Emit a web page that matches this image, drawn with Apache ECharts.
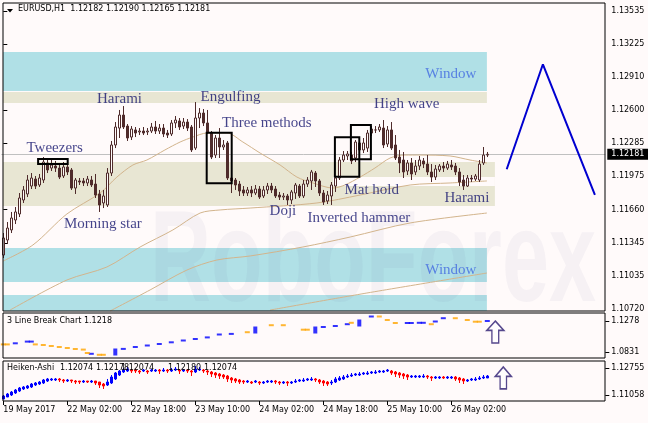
<!DOCTYPE html>
<html><head><meta charset="utf-8">
<script src="https://cdn.jsdelivr.net/npm/echarts@6/dist/echarts.min.js"></script>
<style>html,body{margin:0;padding:0;background:#fffafa;}#c{width:648px;height:423px;}</style>
</head><body><div id="c"></div>
<script>
// ---------- DATA ----------
const headerText = 'EURUSD,H1  1.12182 1.12190 1.12165 1.12181';
const lastPrice = 1.12181;
const priceTicks = [1.10720,1.11035,1.11345,1.11660,1.11975,1.12285,1.12600,1.12910,1.13225,1.13535];
const lbTicks = [1.0831, 1.1278];
const haTicks = [1.11058, 1.12755];
const timeTickIdx = [0,16,32,48,64,80,96,112];
const timeTickLabels = ['19 May 2017','22 May 02:00','22 May 18:00','23 May 10:00','24 May 02:00','24 May 18:00','25 May 10:00','26 May 02:00'];

// EURUSD H1 candles [open, close, low, high]
const candles = [
[1.11229,1.11390,1.11201,1.11437],[1.11371,1.11484,1.11333,1.11541],[1.11466,1.11579,1.11437,1.11636],[1.11560,1.11636,1.11522,1.11683],
[1.11617,1.11768,1.11588,1.11815],[1.11749,1.11844,1.11721,1.11881],[1.11806,1.11938,1.11777,1.11985],[1.11881,1.11957,1.11853,1.12004],
[1.11947,1.11881,1.11853,1.11976],[1.11891,1.11957,1.11872,1.11995],[1.11938,1.12108,1.11910,1.12155],[1.12099,1.12033,1.12004,1.12136],
[1.12051,1.12080,1.12023,1.12127],[1.12070,1.12051,1.12014,1.12118],[1.12051,1.11966,1.11947,1.12099],[1.11976,1.12061,1.11957,1.12108],
[1.12061,1.12014,1.11985,1.12118],[1.12033,1.11862,1.11844,1.12051],[1.11862,1.11938,1.11806,1.11957],[1.11929,1.11919,1.11891,1.11957],
[1.11929,1.11910,1.11881,1.11957],[1.11910,1.11947,1.11881,1.11976],[1.11938,1.11891,1.11872,1.11976],[1.11900,1.11796,1.11768,1.11995],
[1.11806,1.11702,1.11636,1.11844],[1.11721,1.11787,1.11673,1.11844],[1.11702,1.12004,1.11683,1.12051],[1.12004,1.12269,1.11976,1.12307],
[1.12269,1.12439,1.12240,1.12486],[1.12429,1.12552,1.12335,1.12600],[1.12552,1.12439,1.12420,1.12637],[1.12448,1.12335,1.12307,1.12467],
[1.12344,1.12420,1.12316,1.12448],[1.12411,1.12382,1.12344,1.12439],[1.12392,1.12401,1.12363,1.12429],[1.12401,1.12382,1.12363,1.12439],
[1.12392,1.12401,1.12363,1.12429],[1.12401,1.12439,1.12382,1.12477],[1.12439,1.12401,1.12373,1.12496],[1.12401,1.12429,1.12373,1.12467],
[1.12429,1.12373,1.12344,1.12467],[1.12382,1.12363,1.12335,1.12411],[1.12373,1.12477,1.12354,1.12505],[1.12477,1.12505,1.12429,1.12543],
[1.12496,1.12439,1.12411,1.12524],[1.12448,1.12486,1.12420,1.12524],[1.12486,1.12429,1.12401,1.12514],[1.12439,1.12222,1.12203,1.12458],
[1.12240,1.12524,1.12222,1.12675],[1.12524,1.12571,1.12429,1.12618],[1.12571,1.12477,1.12448,1.12609],[1.12477,1.12392,1.12373,1.12600],
[1.12382,1.12155,1.12136,1.12401],[1.12174,1.12335,1.12146,1.12363],[1.12335,1.12250,1.12146,1.12429],[1.12250,1.12269,1.12222,1.12316],
[1.12288,1.11957,1.11938,1.12307],[1.11957,1.11929,1.11815,1.12080],[1.11938,1.11891,1.11844,1.11957],[1.11900,1.11834,1.11787,1.11929],
[1.11844,1.11815,1.11787,1.11881],[1.11815,1.11844,1.11787,1.11872],[1.11844,1.11815,1.11777,1.11881],[1.11815,1.11853,1.11796,1.11891],
[1.11853,1.11777,1.11759,1.11881],[1.11787,1.11844,1.11768,1.11881],[1.11844,1.11881,1.11806,1.11910],[1.11881,1.11844,1.11815,1.11910],
[1.11853,1.11787,1.11768,1.11881],[1.11796,1.11777,1.11749,1.11825],[1.11777,1.11787,1.11749,1.11815],[1.11787,1.11749,1.11702,1.11806],
[1.11749,1.11825,1.11711,1.11844],[1.11815,1.11891,1.11759,1.11910],[1.11881,1.11787,1.11768,1.11900],[1.11787,1.11900,1.11768,1.11938],
[1.11900,1.11938,1.11872,1.11966],[1.11929,1.12014,1.11844,1.12033],[1.12004,1.11929,1.11872,1.12023],[1.11929,1.11815,1.11787,1.11947],
[1.11815,1.11730,1.11702,1.11844],[1.11740,1.11796,1.11711,1.11834],[1.11787,1.11891,1.11702,1.11919],[1.11881,1.11957,1.11825,1.11976],
[1.11957,1.12127,1.11938,1.12155],[1.12127,1.12174,1.12108,1.12212],[1.12165,1.12184,1.12127,1.12212],[1.12174,1.12118,1.12089,1.12203],
[1.12146,1.12297,1.12108,1.12316],[1.12288,1.12222,1.12155,1.12307],[1.12222,1.12288,1.12193,1.12335],[1.12240,1.12382,1.12203,1.12411],
[1.12382,1.12420,1.12354,1.12448],[1.12411,1.12411,1.12382,1.12448],[1.12411,1.12439,1.12392,1.12467],[1.12429,1.12269,1.12240,1.12505],
[1.12278,1.12411,1.12250,1.12448],[1.12411,1.12240,1.12222,1.12486],[1.12269,1.12146,1.12127,1.12363],[1.12155,1.12099,1.12004,1.12222],
[1.12127,1.12014,1.11957,1.12203],[1.12023,1.12099,1.11985,1.12127],[1.12099,1.11995,1.11938,1.12146],[1.12014,1.12070,1.11985,1.12127],
[1.12070,1.12127,1.12033,1.12165],[1.12118,1.12089,1.12051,1.12146],[1.12089,1.12014,1.11985,1.12174],[1.12014,1.11966,1.11919,1.12089],
[1.11966,1.12042,1.11938,1.12080],[1.12033,1.12070,1.12014,1.12089],[1.12070,1.12051,1.12014,1.12108],[1.12051,1.12089,1.12033,1.12118],
[1.12080,1.12061,1.12033,1.12127],[1.12070,1.12014,1.11985,1.12099],[1.12014,1.11919,1.11881,1.12051],[1.11938,1.11881,1.11844,1.11985],
[1.11881,1.11957,1.11872,1.11985],[1.11957,1.11947,1.11919,1.11985],[1.11947,1.11976,1.11929,1.11995],[1.11938,1.12089,1.11919,1.12127],
[1.12099,1.12174,1.12080,1.12250],[1.12174,1.12181,1.12155,1.12203]
];

// moving averages: [bar index, price]
const maFast = [[0,1.11173],[7.4,1.11324],[15.9,1.11617],[24.2,1.11815],[28.4,1.11966],[32.4,1.12080],[35.9,1.12127],[40.4,1.12222],[44.2,1.12297],[47.4,1.12344],[50.9,1.12382],[55.9,1.12382],[59.9,1.12297],[64.2,1.12193],[69.2,1.12080],[73.4,1.11966],[77.4,1.11910],[82.4,1.11862],[85.4,1.11891],[89.2,1.11966],[92.9,1.12051],[96.7,1.12146],[100.4,1.12174],[104.2,1.12174],[111.7,1.12165],[116.7,1.12127],[120.9,1.12099]];
const maMid = [[1.7,1.10709],[15.9,1.10993],[25.9,1.11116],[34.2,1.11305],[42.4,1.11466],[49.2,1.11626],[54.2,1.11655],[61.7,1.11673],[78.4,1.11721],[89.2,1.11796],[101.7,1.11891],[111.7,1.11910],[120.9,1.11929]];
const maSlow = [[26.7,1.10700],[36.7,1.10899],[45.9,1.11087],[53.4,1.11182],[61.7,1.11220],[74.9,1.11305],[86.7,1.11399],[101.7,1.11532],[120.9,1.11626]];
const maSlowest = [[66.7,1.10709],[90.9,1.10870],[120.9,1.11059]];

// forecast zigzag [bar index, price]
const forecast = [[125.85,1.12040],[134.9,1.13032],[147.9,1.11797]];

// zones: [kind, startIdx, endIdx, low, high]
const zones = [
 ['window',-0.075,120.9,1.12779,1.13148],
 ['zone',-0.075,120.9,1.12666,1.12770],
 ['zone',-0.075,122.9,1.11693,1.12109],
 ['gap',82.4,122.9,1.11882,1.11967],
 ['window',-0.075,120.9,1.10975,1.11296],
 ['window',-0.075,120.9,1.10700,1.10852]
];
// pattern boxes: [startIdx, endIdx, low, high]
const boxes = [[8.7,16.1,1.12090,1.12137],[50.85,57.1,1.11907,1.12385],[82.9,89.0,1.11970,1.12342],[86.9,91.9,1.12134,1.12458]];
// pattern names: [text, idx, price]
const patternNames = [['Harami',29.05,1.12704],['Engulfing',56.8,1.12718],['Three methods',65.9,1.12477],['Tweezers',12.85,1.12241],['Morning star',24.9,1.11523],['Doji',69.9,1.11646],['Inverted hammer',88.9,1.11580],['Mat hold',92.1,1.11844],['High wave',100.85,1.12652],['Harami',115.9,1.11769]];
const windowNames = [['Window',111.9,1.12940],['Window',111.9,1.11088]];

// 3 Line Break indicator
const lbIdx = [0,1,3,6,7,8,10,12,14,16,18,20,21,22,24,25,30,33,36,39,42,45,48,51,54,57,61,67,70,75,76,80,83,86,87,92,94,96,98,101,102,104,105,107,108,110,113,116,118,119,121];
const lbVal = [1.09406,1.09406,1.09565,1.09810,1.09810,1.09406,1.09319,1.09175,1.09031,1.08887,1.08743,1.08656,1.08166,1.08051,1.07906,1.07906,1.08757,1.09031,1.09247,1.09464,1.09709,1.09968,1.10185,1.10415,1.10833,1.10920,1.11165,1.12174,1.12174,1.11526,1.11526,1.11915,1.12059,1.12319,1.12520,1.13429,1.13429,1.12924,1.12492,1.12492,1.12492,1.12520,1.12520,1.12319,1.12708,1.13184,1.13184,1.12924,1.12679,1.12679,1.12780];
const lbUp =  [0,0,1,1,1,0,0,0,0,0,0,0,0,1,0,0,1,1,1,1,1,1,1,1,1,1,0,0,0,0,0,1,1,1,0,1,0,0,0,1,1,1,1,0,1,1,0,0,0,0,1];
const lbBlockIdx = [28,63,78,89];
const lbBlockVal = [1.08310,1.11482,1.11482,1.12492];
const lbLabel = '3 Line Break Chart 1.1218';

// Heiken-Ashi [open, close, low, high]
const haBars = [
[1.10806,1.10995,1.10806,1.11058],[1.10932,1.11121,1.10932,1.11184],[1.11058,1.11246,1.10995,1.11309],[1.11184,1.11372,1.11121,1.11435],
[1.11309,1.11498,1.11246,1.11561],[1.11435,1.11561,1.11372,1.11624],[1.11498,1.11624,1.11435,1.11686],[1.11561,1.11749,1.11498,1.11812],
[1.11686,1.11812,1.11624,1.11875],[1.11749,1.11875,1.11686,1.11938],[1.11812,1.12001,1.11749,1.12064],[1.11938,1.12064,1.11875,1.12127],
[1.12001,1.12064,1.11938,1.12127],[1.12001,1.12064,1.11938,1.12127],[1.12064,1.12001,1.11875,1.12127],[1.12001,1.11938,1.11812,1.12064],
[1.11938,1.12001,1.11875,1.12064],[1.12001,1.11938,1.11812,1.12001],[1.11938,1.11875,1.11749,1.12001],[1.11938,1.11875,1.11749,1.11938],
[1.11875,1.11938,1.11812,1.12001],[1.11938,1.11875,1.11812,1.11938],[1.11875,1.11938,1.11812,1.12001],[1.11938,1.11812,1.11686,1.11938],
[1.11875,1.11686,1.11498,1.11875],[1.11749,1.11624,1.11435,1.11812],[1.11686,1.11875,1.11624,1.12064],[1.11812,1.12189,1.11749,1.12315],
[1.12064,1.12441,1.12001,1.12504],[1.12315,1.12566,1.12252,1.12629],[1.12504,1.12629,1.12441,1.12755],[1.12566,1.12692,1.12504,1.12818],
[1.12629,1.12566,1.12441,1.12692],[1.12629,1.12566,1.12441,1.12692],[1.12566,1.12504,1.12378,1.12629],[1.12566,1.12629,1.12504,1.12692],
[1.12566,1.12504,1.12378,1.12629],[1.12566,1.12629,1.12504,1.12692],[1.12566,1.12629,1.12504,1.12692],[1.12629,1.12566,1.12378,1.12692],
[1.12566,1.12629,1.12504,1.12755],[1.12629,1.12566,1.12441,1.12692],[1.12566,1.12629,1.12504,1.12755],[1.12629,1.12692,1.12566,1.12818],
[1.12629,1.12566,1.12378,1.12692],[1.12566,1.12629,1.12504,1.12692],[1.12629,1.12566,1.12441,1.12692],[1.12566,1.12504,1.12252,1.12629],
[1.12504,1.12692,1.12441,1.12881],[1.12629,1.12692,1.12566,1.12818],[1.12629,1.12566,1.12441,1.12692],[1.12566,1.12504,1.12315,1.12629],
[1.12504,1.12378,1.12189,1.12566],[1.12441,1.12315,1.12127,1.12504],[1.12378,1.12252,1.12064,1.12441],[1.12315,1.12189,1.12064,1.12378],
[1.12252,1.12064,1.11875,1.12315],[1.12127,1.12001,1.11812,1.12189],[1.12064,1.11938,1.11812,1.12127],[1.12001,1.11875,1.11749,1.12064],
[1.11938,1.11875,1.11749,1.12001],[1.11875,1.11938,1.11812,1.12001],[1.11875,1.11812,1.11749,1.11938],[1.11875,1.11938,1.11812,1.12001],
[1.11875,1.11812,1.11686,1.11938],[1.11812,1.11875,1.11749,1.11938],[1.11875,1.11938,1.11812,1.12001],[1.11875,1.11938,1.11812,1.12001],
[1.11938,1.11875,1.11749,1.12001],[1.11875,1.11812,1.11686,1.11938],[1.11812,1.11875,1.11749,1.11938],[1.11875,1.11812,1.11624,1.11938],
[1.11812,1.11875,1.11749,1.11938],[1.11875,1.11938,1.11812,1.12064],[1.11938,1.12001,1.11875,1.12064],[1.11938,1.12001,1.11875,1.12127],
[1.12001,1.12064,1.11938,1.12127],[1.12001,1.12064,1.11938,1.12189],[1.12064,1.12001,1.11875,1.12127],[1.12001,1.11875,1.11749,1.12064],
[1.11938,1.11812,1.11624,1.12001],[1.11875,1.11749,1.11624,1.11938],[1.11812,1.11875,1.11686,1.12001],[1.11875,1.12064,1.11812,1.12189],
[1.12001,1.12127,1.11938,1.12252],[1.12064,1.12189,1.12001,1.12315],[1.12189,1.12252,1.12127,1.12378],[1.12252,1.12315,1.12189,1.12441],
[1.12315,1.12378,1.12252,1.12441],[1.12315,1.12378,1.12252,1.12504],[1.12378,1.12441,1.12315,1.12504],[1.12378,1.12441,1.12315,1.12566],
[1.12441,1.12504,1.12378,1.12566],[1.12441,1.12504,1.12378,1.12629],[1.12504,1.12566,1.12441,1.12629],[1.12504,1.12566,1.12441,1.12629],
[1.12566,1.12629,1.12504,1.12692],[1.12566,1.12441,1.12315,1.12629],[1.12504,1.12378,1.12189,1.12566],[1.12441,1.12315,1.12127,1.12504],
[1.12378,1.12252,1.12064,1.12441],[1.12315,1.12189,1.12001,1.12378],[1.12189,1.12252,1.12127,1.12315],[1.12189,1.12252,1.12127,1.12315],
[1.12189,1.12252,1.12127,1.12315],[1.12189,1.12252,1.12127,1.12378],[1.12252,1.12189,1.12064,1.12315],[1.12189,1.12127,1.11938,1.12252],
[1.12127,1.12189,1.12064,1.12252],[1.12127,1.12189,1.12064,1.12252],[1.12189,1.12127,1.12064,1.12252],[1.12127,1.12189,1.12064,1.12252],
[1.12127,1.12189,1.12064,1.12252],[1.12189,1.12064,1.11938,1.12252],[1.12127,1.12001,1.11812,1.12189],[1.12064,1.11938,1.11749,1.12127],
[1.11938,1.12001,1.11875,1.12064],[1.12001,1.12064,1.11938,1.12127],[1.12001,1.12064,1.11938,1.12189],[1.12064,1.12127,1.12001,1.12252],
[1.12127,1.12189,1.12064,1.12315],[1.12127,1.12252,1.12127,1.12315]
];
const haLabelParts = ['Heiken-Ashi','1.12074','1.12178','1.12074','1.12180','1.12074'];
// signal arrows: [bar index, value] in 3LB panel and HA panel
const lbArrow = [123, 1.11194];
const haArrow = [125, 1.12127];

// ---------- STYLE / LAYOUT ----------
const FONT = 'DejaVu Sans';
const CANDLE = '#4f2b2b';
const NBARS = 151;
const cats = Array.from({length: NBARS}, (_, i) => i);
const tickMap = {}; timeTickIdx.forEach((k, j) => tickMap[k] = timeTickLabels[j]);
const zoneColor = {window: '#b0e0e6', zone: '#e8e6d3', gap: '#fffafa'};
const gl = 1.3, gr = 42.7;
const arrowPath = 'path://M10,0 L20,11 L14,11 L14,26 L6,26 L6,11 L0,11 Z';

function yAxisCfg(grid, min, max, ticks, dec) {
  return {type: 'value', gridIndex: grid, position: 'right', min, max, scale: true,
    axisLine: {show: false}, splitLine: {show: false},
    axisTick: {show: true, customValues: ticks, length: 4, lineStyle: {color: '#000'}},
    axisLabel: {customValues: ticks, formatter: v => v.toFixed(dec), margin: 6, fontSize: 8, fontFamily: FONT, color: '#000'}};
}
const chart = echarts.init(document.getElementById('c'), null, {renderer: 'canvas'});
const option = {
  animation: false,
  backgroundColor: '#fffafa',
  grid: [
    {left: gl, right: gr, top: 3, height: 308, containLabel: false, outerBoundsMode: 'none'},
    {left: gl, right: gr, top: 313, height: 45, containLabel: false, outerBoundsMode: 'none'},
    {left: gl, right: gr, top: 361, height: 40, containLabel: false, outerBoundsMode: 'none'}
  ],
  xAxis: [
    {type: 'category', gridIndex: 0, data: cats, boundaryGap: true, show: false},
    {type: 'value', gridIndex: 0, min: -0.5, max: NBARS - 0.5, show: false},
    {type: 'category', gridIndex: 1, data: cats, boundaryGap: true, show: false},
    {type: 'category', gridIndex: 2, data: cats, boundaryGap: true,
      axisLine: {show: false},
      axisTick: {show: true, alignWithLabel: true, length: 4, interval: (i) => tickMap[i] !== undefined, lineStyle: {color: '#000'}},
      axisLabel: {interval: (i) => tickMap[i] !== undefined, formatter: (v, i) => tickMap[i] || '', align: 'left', margin: 5,
        fontSize: 8, fontFamily: FONT, color: '#000'}}
  ],
  yAxis: [
    yAxisCfg(0, 1.10700, 1.13611, priceTicks, 5),
    yAxisCfg(1, 1.07445, 1.13934, lbTicks, 4),
    yAxisCfg(2, 1.10681, 1.13195, haTicks, 5)
  ],
  series: [
    {type: 'line', name: 'forecast', xAxisIndex: 1, yAxisIndex: 0, data: forecast, showSymbol: false, z: 4,
      lineStyle: {color: '#0000d0', width: 2}, silent: true,
      markArea: {silent: true, z: 1, data: zones.map(z => [
        {xAxis: z[1], yAxis: z[4], itemStyle: {color: zoneColor[z[0]]}}, {xAxis: z[2], yAxis: z[3]}])},
      markLine: {silent: true, symbol: 'none', z: 2, lineStyle: {color: '#c0c0c0', type: 'solid', width: 1},
        label: {show: true, position: 'end', distance: 2, formatter: () => lastPrice.toFixed(5), backgroundColor: '#000', color: '#fff',
          padding: [2, 4, 1, 4], fontSize: 8, fontFamily: FONT},
        data: [[{coord: [-0.5, lastPrice]}, {coord: [NBARS - 0.5, lastPrice]}]]}},
    {type: 'line', xAxisIndex: 1, yAxisIndex: 0, data: maFast, showSymbol: false, smooth: 0.3, lineStyle: {color: '#d2b48c', width: 1}, silent: true, z: 2},
    {type: 'line', xAxisIndex: 1, yAxisIndex: 0, data: maMid, showSymbol: false, smooth: 0.3, lineStyle: {color: '#d2b48c', width: 1}, silent: true, z: 2,
      markArea: {silent: true, z: 6, data: boxes.map(b => [
        {xAxis: b[0], yAxis: b[3], itemStyle: {color: 'rgba(0,0,0,0)', borderColor: '#000', borderWidth: 2}}, {xAxis: b[1], yAxis: b[2]}])}},
    {type: 'line', xAxisIndex: 1, yAxisIndex: 0, data: maSlow, showSymbol: false, smooth: 0.3, lineStyle: {color: '#d2b48c', width: 1}, silent: true, z: 2},
    {type: 'line', xAxisIndex: 1, yAxisIndex: 0, data: maSlowest, showSymbol: false, smooth: 0.3, lineStyle: {color: '#d2b48c', width: 1}, silent: true, z: 2},
    {type: 'candlestick', xAxisIndex: 0, yAxisIndex: 0, data: candles, barWidth: 3, z: 3,
      itemStyle: {color: '#fffafa', color0: CANDLE, borderColor: CANDLE, borderColor0: CANDLE, borderWidth: 1}},
    {type: 'scatter', xAxisIndex: 1, yAxisIndex: 0, symbolSize: 0, silent: true, z: 7,
      data: patternNames.map(p => ({name: p[0], value: [p[1], p[2]]})),
      label: {show: true, position: 'inside', formatter: '{b}', color: '#15156e', fontSize: 15, fontFamily: 'Liberation Serif'}},
    {type: 'scatter', xAxisIndex: 1, yAxisIndex: 0, symbolSize: 0, silent: true, z: 7,
      data: windowNames.map(p => ({name: p[0], value: [p[1], p[2]]})),
      label: {show: true, position: 'inside', formatter: '{b}', color: '#4169e1', fontSize: 15, fontFamily: 'Liberation Serif'}},
    // 3 line break
    {type: 'scatter', xAxisIndex: 2, yAxisIndex: 1, symbol: 'rect', symbolSize: [5, 2], silent: true,
      data: lbIdx.map((k, j) => lbUp[j] ? [k, lbVal[j]] : null).filter(Boolean), itemStyle: {color: '#0000ff'}},
    {type: 'scatter', xAxisIndex: 2, yAxisIndex: 1, symbol: 'rect', symbolSize: [5, 2], silent: true,
      data: lbIdx.map((k, j) => lbUp[j] ? null : [k, lbVal[j]]).filter(Boolean), itemStyle: {color: '#ffa500'}},
    {type: 'scatter', xAxisIndex: 2, yAxisIndex: 1, symbol: 'rect', symbolSize: [4, 7], silent: true,
      data: lbBlockIdx.map((k, j) => [k, lbBlockVal[j]]), itemStyle: {color: '#0000ff'}},
    {type: 'scatter', xAxisIndex: 2, yAxisIndex: 1, symbol: arrowPath, symbolSize: [17, 22], silent: true,
      data: [lbArrow], itemStyle: {color: '#ffffff', borderColor: '#2b1a70', borderWidth: 1.5}},
    // Heiken-Ashi
    {type: 'candlestick', xAxisIndex: 3, yAxisIndex: 2, data: haBars, barWidth: 3,
      itemStyle: {color: '#0000ff', color0: '#ff0000', borderColor: '#0000ff', borderColor0: '#ff0000', borderWidth: 1}},
    {type: 'scatter', xAxisIndex: 3, yAxisIndex: 2, symbol: arrowPath, symbolSize: [16, 22], silent: true,
      data: [haArrow], itemStyle: {color: '#ffffff', borderColor: '#2b1a70', borderWidth: 1.5}}
  ],
  graphic: [
    {type: 'text', z: 1.5, silent: true, left: 150, top: 200, scaleX: 0.65,
      style: {text: 'RoboForex', font: 'bold 130px "Liberation Sans"', fill: 'rgba(90,90,140,0.055)'}},
    {type: 'rect', z: 100, silent: true, shape: {x: 3, y: 3, width: 602, height: 308}, style: {fill: 'none', stroke: '#000', lineWidth: 1}},
    {type: 'rect', z: 100, silent: true, shape: {x: 3, y: 313, width: 602, height: 45}, style: {fill: 'none', stroke: '#000', lineWidth: 1}},
    {type: 'rect', z: 100, silent: true, shape: {x: 3, y: 361, width: 602, height: 40}, style: {fill: 'none', stroke: '#000', lineWidth: 1}},
    {type: 'polygon', z: 100, silent: true, shape: {points: [[7, 9], [13, 9], [10, 12.5]]}, style: {fill: '#000'}},
    {type: 'text', z: 100, silent: true, x: 18, y: 5, style: {text: headerText, font: '8px "DejaVu Sans"', fill: '#000'}},
    {type: 'text', z: 100, silent: true, x: 7, y: 317, style: {text: lbLabel, font: '8px "DejaVu Sans"', fill: '#000'}},
    {type: 'text', z: 100, silent: true, x: 7, y: 364, style: {text: haLabelParts[0], font: '8px "DejaVu Sans"', fill: '#000'}},
    {type: 'text', z: 100, silent: true, x: 60, y: 364, style: {text: haLabelParts[1], font: '8px "DejaVu Sans"', fill: '#000'}},
    {type: 'text', z: 100, silent: true, x: 96, y: 364, style: {text: haLabelParts[2], font: '8px "DejaVu Sans"', fill: '#000'}},
    {type: 'text', z: 100, silent: true, x: 121, y: 364, style: {text: haLabelParts[3], font: '8px "DejaVu Sans"', fill: '#000'}},
    {type: 'text', z: 100, silent: true, x: 168, y: 364, style: {text: haLabelParts[4], font: '8px "DejaVu Sans"', fill: '#000'}},
    {type: 'text', z: 100, silent: true, x: 204, y: 364, style: {text: haLabelParts[5], font: '8px "DejaVu Sans"', fill: '#000'}}
  ]
};
chart.setOption(option);
</script>
</body></html>
